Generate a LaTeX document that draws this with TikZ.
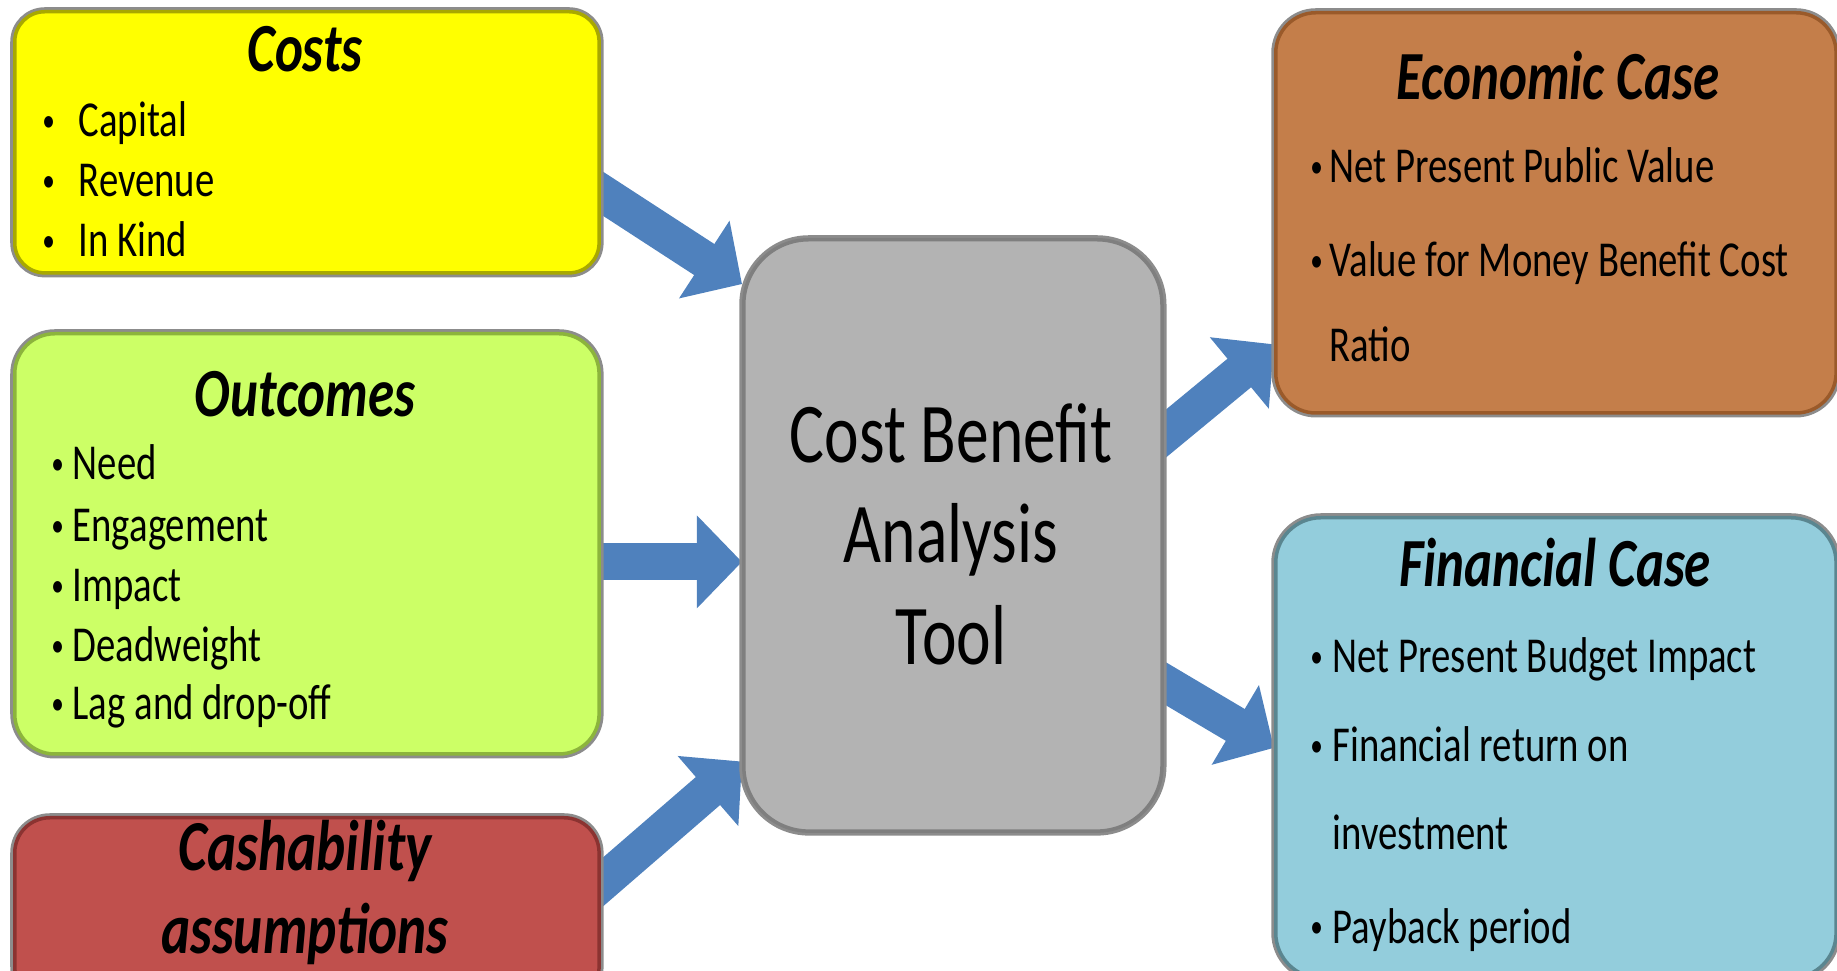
\documentclass[tikz,border=0pt]{standalone}
\usepackage{fontspec}
\usepackage{graphicx}
\setmainfont{Carlito}[FakeStretch=0.77]
\usetikzlibrary{arrows.meta}
\definecolor{amarillo}{HTML}{FFFF00}
\definecolor{amarillob}{HTML}{A8A800}
\definecolor{verde}{HTML}{CCFF66}
\definecolor{verdeb}{HTML}{8CB43C}
\definecolor{rojo}{HTML}{C0504D}
\definecolor{rojob}{HTML}{8B3331}
\definecolor{gris}{HTML}{B3B3B3}
\definecolor{grisb}{HTML}{7F7F7F}
\definecolor{cafe}{HTML}{C47E4A}
\definecolor{cafeb}{HTML}{9A5A2A}
\definecolor{celeste}{HTML}{93CDDC}
\definecolor{celesteb}{HTML}{5A8690}
\definecolor{azul}{HTML}{4F81BD}
\definecolor{sombra}{HTML}{8C8C8C}
\pgfdeclarelayer{fondo}
\pgfsetlayers{fondo,main}
\begin{document}
\begin{tikzpicture}[x=0.01cm,y=-0.01cm]
% estilos de cajas, textos y flechas
\tikzstyle{caja} = [rectangle,inner sep=0,anchor=north west,line width=0.035cm,
  preaction={draw=sombra,line width=0.09cm}]
\tikzstyle{titulo} = [anchor=base,inner sep=0,
  font=\fontsize{19.6pt}{22pt}\selectfont\bfseries\itshape]
\tikzstyle{item} = [anchor=base west,inner sep=0,
  font=\fontsize{14.3pt}{16pt}\selectfont]
\tikzstyle{centro} = [anchor=base,inner sep=0,
  font=\fontsize{24.2pt}{28pt}\selectfont]
\tikzstyle{flecha} = [draw=azul,line width=0.37cm,shorten <=-0.3cm,
  -{Triangle[length=0.45cm,width=0.9cm]}]
% definicion de vineta
% #1: nombre del nodo
% #2: ubicacion del texto
% #3: ancho de la marca
% #4: texto
\newcommand{\vineta}[4]{
\node[item] (#1) at #2 {\llap{\makebox[#3]{\raisebox{0.11em}{\scalebox{0.65}{\textbullet}}}}#4};
}
\useasboundingbox (0,0) rectangle (1837,971);
\clip (0,0) rectangle (1837,971);
% dibujar cajas
\node[caja,fill=amarillo,draw=amarillob,rounded corners=0.3cm,
  minimum width=5.84cm,minimum height=2.61cm] (costs) at (13,10) {};
\node[caja,fill=verde,draw=verdeb,rounded corners=0.4cm,
  minimum width=5.84cm,minimum height=4.2cm] (outcomes) at (13,332) {};
\node[caja,fill=rojo,draw=rojob,rounded corners=0.35cm,
  minimum width=5.84cm,minimum height=1.84cm] (cash) at (13,816) {};
\node[caja,fill=gris,draw=grisb,rounded corners=0.65cm,
  minimum width=4.18cm,minimum height=5.91cm] (tool) at (742,238) {};
\node[caja,fill=cafe,draw=cafeb,rounded corners=0.4cm,
  minimum width=5.6cm,minimum height=4.0cm] (econ) at (1274,11) {};
\node[caja,fill=celeste,draw=celesteb,rounded corners=0.45cm,
  minimum width=5.6cm,minimum height=4.6cm] (fin) at (1274,516) {};
% dibujar textos
\node[titulo] (costst) at (305,72) {Costs};
\vineta{capital}{(78,137)}{0.6cm}{Capital}
\vineta{revenue}{(78,197)}{0.6cm}{Revenue}
\vineta{inkind}{(78,257)}{0.6cm}{In Kind}
\node[titulo] (outcomest) at (305,417) {Outcomes};
\vineta{need}{(72,480)}{0.3cm}{Need}
\vineta{engage}{(72,542)}{0.3cm}{Engagement}
\vineta{impact}{(72,602)}{0.3cm}{Impact}
\vineta{dead}{(72,662)}{0.3cm}{Deadweight}
\vineta{lag}{(72,720)}{0.3cm}{Lag and drop-off}
\node[titulo,font=\fontsize{20.4pt}{22pt}\selectfont\bfseries\itshape]
  (casht) at (305,871) {Cashability};
\node[titulo,font=\fontsize{20.4pt}{22pt}\selectfont\bfseries\itshape]
  (cashu) at (305,953) {assumptions};
\node[centro] (toola) at (951,463) {Cost Benefit};
\node[centro] (toolb) at (951,563) {Analysis};
\node[centro] (toolc) at (951,665) {Tool};
\node[titulo] (econt) at (1558,100) {Economic Case};
\vineta{npv}{(1329,183)}{0.26cm}{Net Present Public Value}
\vineta{vfm}{(1329,277)}{0.26cm}{Value for Money Benefit Cost}
\node[item] (ratio) at (1329,362) {Ratio};
\node[titulo] (fint) at (1555,587) {Financial Case};
\vineta{npb}{(1332,673)}{0.32cm}{Net Present Budget Impact}
\vineta{fro}{(1332,762)}{0.32cm}{Financial return on}
\node[item] (invest) at (1332,850) {investment};
\vineta{payback}{(1332,943)}{0.32cm}{Payback period}
% dibujar flechas
\begin{pgfonlayer}{fondo}
\draw[flecha] ([yshift=-0.5cm]costs.east) -- (tool.130);
\draw[flecha] ([yshift=-0.18cm]outcomes.east) -- ([yshift=-0.18cm]outcomes.east -| tool.west);
\draw[flecha] ([yshift=0.26cm]cash.east) -- (tool.227);
\draw[flecha] ([yshift=1.0cm]tool.east) -- (econ.205);
\draw[flecha] ([yshift=-1.47cm]tool.east) -- (fin.west);
\end{pgfonlayer}
\end{tikzpicture}
\end{document}
